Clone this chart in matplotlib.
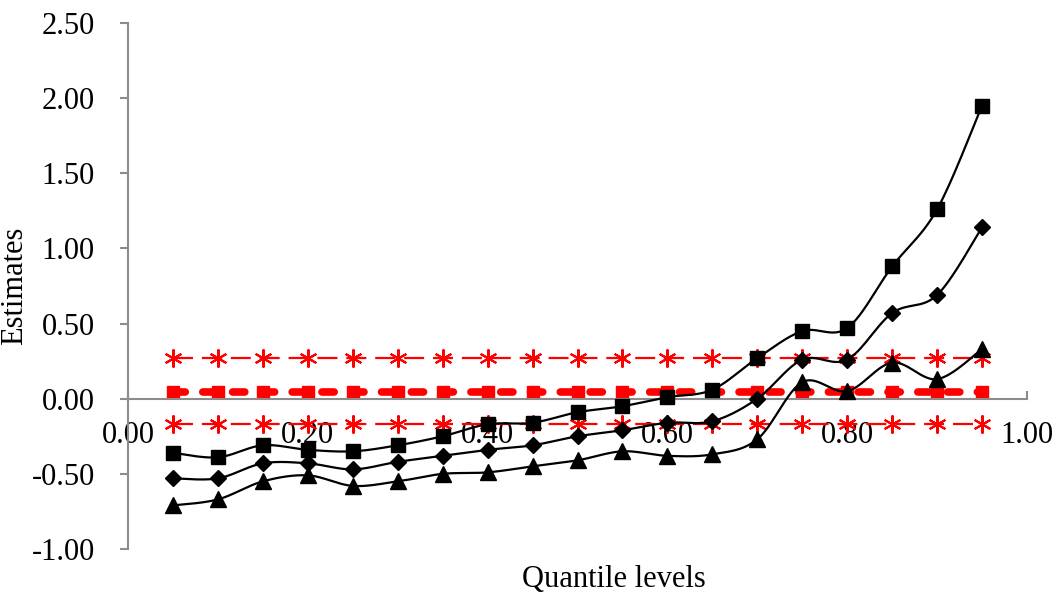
import numpy as np
import matplotlib
matplotlib.use('Agg')
from matplotlib import pyplot as plt

plt.rcParams['font.family'] = ['Liberation Serif', 'DejaVu Serif']

# quantile levels and estimates
quantiles = [0.05, 0.10, 0.15, 0.20, 0.25, 0.30, 0.35, 0.40, 0.45, 0.50,
             0.55, 0.60, 0.65, 0.70, 0.75, 0.80, 0.85, 0.90, 0.95]
upper_band = [-0.36, -0.39, -0.31, -0.34, -0.35, -0.31, -0.25, -0.17, -0.16, -0.09,
              -0.05, 0.01, 0.06, 0.27, 0.45, 0.47, 0.88, 1.26, 1.95]
estimate = [-0.53, -0.53, -0.43, -0.43, -0.47, -0.42, -0.38, -0.34, -0.31, -0.25,
            -0.21, -0.16, -0.15, 0.00, 0.26, 0.26, 0.57, 0.69, 1.14]
lower_band = [-0.71, -0.67, -0.55, -0.51, -0.58, -0.55, -0.50, -0.49, -0.45, -0.41,
              -0.35, -0.38, -0.37, -0.27, 0.11, 0.05, 0.24, 0.13, 0.33]
ols_upper = [0.27] * len(quantiles)
ols_estimate = [0.045] * len(quantiles)
ols_lower = [-0.17] * len(quantiles)

x_ticks = [0.0, 0.2, 0.4, 0.6, 0.8, 1.0]
y_ticks = [-1.0, -0.5, 0.0, 0.5, 1.0, 1.5, 2.0, 2.5]


def smooth_curve(xs, ys, steps=30):
    # Catmull-Rom style smoothing, like a spreadsheet "smoothed line"
    xs = np.asarray(xs, float)
    ys = np.asarray(ys, float)
    px = np.concatenate([[xs[0]], xs, [xs[-1]]])
    py = np.concatenate([[ys[0]], ys, [ys[-1]]])
    out_x, out_y = [], []
    for i in range(1, len(px) - 2):
        t = np.linspace(0, 1, steps)
        c1x = px[i] + (px[i + 1] - px[i - 1]) / 6
        c1y = py[i] + (py[i + 1] - py[i - 1]) / 6
        c2x = px[i + 1] - (px[i + 2] - px[i]) / 6
        c2y = py[i + 1] - (py[i + 2] - py[i]) / 6
        b0, b1, b2, b3 = (1 - t) ** 3, 3 * (1 - t) ** 2 * t, 3 * (1 - t) * t ** 2, t ** 3
        out_x.extend(b0 * px[i] + b1 * c1x + b2 * c2x + b3 * px[i + 1])
        out_y.extend(b0 * py[i] + b1 * c1y + b2 * c2y + b3 * py[i + 1])
    return out_x, out_y


fig = plt.figure(figsize=(10.56, 5.93), dpi=100)
ax = fig.add_axes([128 / 1056, 44 / 593, 899 / 1056, 526 / 593])

# red reference lines
for level in [ols_upper, ols_lower]:
    ax.plot(quantiles, level, color='red', lw=1.6, dashes=(9, 4),
            marker=(6, 2, 0), markersize=13, markeredgewidth=1.5, zorder=2)
ax.plot(quantiles, ols_estimate, color='red', lw=5.5, dashes=(1.6, 2.3),
        dash_capstyle='round', marker='s', markersize=8.5, zorder=2)

# quantile regression estimates
for values, mk, ms in [(upper_band, 's', 10), (estimate, 'D', 8.5), (lower_band, '^', 11)]:
    sx, sy = smooth_curve(quantiles, values)
    ax.plot(sx, sy, color='black', lw=1.6, zorder=3)
    ax.plot(quantiles, values, linestyle='none', marker=mk, markersize=ms,
            color='black', zorder=4)

ax.set_xlim(0, 1.0)
ax.set_ylim(-1.0, 2.5)
ax.set_xticks(x_ticks)
ax.set_yticks(y_ticks)
ax.set_xticklabels([f'{v:.2f}' for v in x_ticks])
ax.set_yticklabels([f'{v:.2f}' for v in y_ticks])

for side in ['top', 'right']:
    ax.spines[side].set_visible(False)
ax.spines['bottom'].set_position(('data', 0))
for side in ['left', 'bottom']:
    ax.spines[side].set_color('#8c8c8c')
    ax.spines[side].set_linewidth(1.5)

ax.tick_params(axis='y', direction='out', length=6, width=1.5, color='#8c8c8c',
               labelsize=22, pad=18)
ax.tick_params(axis='x', direction='in', length=6, width=1.5, color='#8c8c8c',
               labelsize=22, pad=16)

ax.set_ylabel('Estimates', fontsize=22, labelpad=2)
ax.set_xlabel('Quantile levels', fontsize=22)
ax.xaxis.set_label_coords(0.54, -0.03)

fig.savefig('out.png', dpi=100)
